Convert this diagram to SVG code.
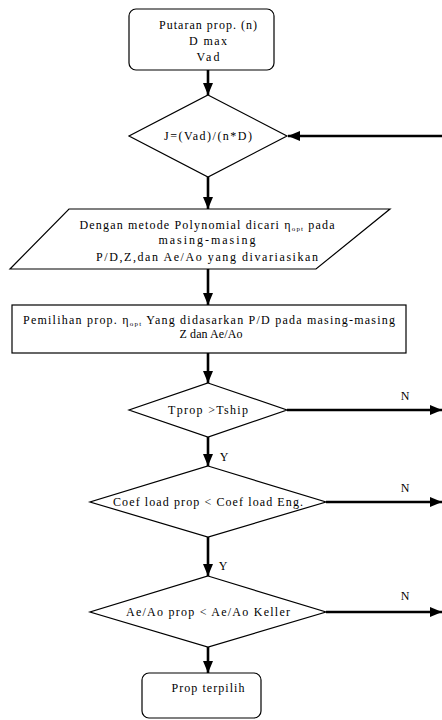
<svg xmlns="http://www.w3.org/2000/svg" width="442" height="720" viewBox="0 0 442 720">
<style>
.s{fill:#fff;stroke:#000;stroke-width:1.2}
.t{font-family:"Liberation Serif","Times New Roman",serif;font-size:12px;fill:#000;text-anchor:middle}
.sub{font-size:7px}
.c{stroke:#000;stroke-width:2.6;fill:none}
</style>
<defs>
<marker id="ah" markerUnits="userSpaceOnUse" markerWidth="12" markerHeight="12" viewBox="0 0 12 12" refX="12" refY="6" orient="auto">
<path d="M0,1 L12,6 L0,11 Z" fill="#000"/>
</marker>
</defs>
<g id="connectors">
<line class="c" x1="208" y1="70" x2="208" y2="95" marker-end="url(#ah)"/>
<line class="c" x1="442" y1="136" x2="288" y2="136" marker-end="url(#ah)"/>
<line class="c" x1="208" y1="177" x2="208" y2="209" marker-end="url(#ah)"/>
<line class="c" x1="208" y1="269" x2="208" y2="305" marker-end="url(#ah)"/>
<line class="c" x1="208" y1="353" x2="208" y2="383" marker-end="url(#ah)"/>
<line class="c" x1="287" y1="410" x2="442" y2="410" marker-end="url(#ah)"/>
<line class="c" x1="208" y1="437" x2="208" y2="466" marker-end="url(#ah)"/>
<line class="c" x1="326" y1="502" x2="442" y2="502" marker-end="url(#ah)"/>
<line class="c" x1="208" y1="537" x2="208" y2="576" marker-end="url(#ah)"/>
<line class="c" x1="326" y1="612" x2="442" y2="612" marker-end="url(#ah)"/>
<line class="c" x1="208" y1="647" x2="208" y2="673" marker-end="url(#ah)"/>
<text class="t" x="405" y="400">N</text>
<text class="t" x="224" y="461">Y</text>
<text class="t" x="405" y="492">N</text>
<text class="t" x="223" y="570">Y</text>
<text class="t" x="405" y="600">N</text>
</g>
<g id="start">
<rect class="s" x="129" y="9" width="145" height="61" rx="7"/>
<text class="t" x="208" y="29" textLength="98">Putaran prop. (n)</text>
<text class="t" x="208" y="45" textLength="38">D max</text>
<text class="t" x="208" y="61" textLength="23">Vad</text>
</g>
<g id="j">
<polygon class="s" points="208,95 287,136 208,177 129,136"/>
<text class="t" x="208" y="140" textLength="88">J=(Vad)/(n*D)</text>
</g>
<g id="poly">
<polygon class="s" points="69,209 390,209 316,269 10,269"/>
<text class="t" x="207" y="229" textLength="255">Dengan metode Polynomial dicari η<tspan class="sub" dy="2">opt</tspan><tspan dy="-2"> pada</tspan></text>
<text class="t" x="207" y="244" textLength="97">masing-masing</text>
<text class="t" x="207" y="261" textLength="222">P/D,Z,dan Ae/Ao yang divariasikan</text>
</g>
<g id="pilih">
<rect class="s" x="12" y="305" width="394" height="48"/>
<text class="t" x="209" y="324" textLength="372">Pemilihan prop. η<tspan class="sub" dy="2">opt</tspan><tspan dy="-2"> Yang didasarkan P/D pada masing-masing</tspan></text>
<text class="t" x="211" y="338" textLength="63">Z dan Ae/Ao</text>
</g>
<g id="tprop">
<polygon class="s" points="208,383 287,410 208,437 129,410"/>
<text class="t" x="208" y="414" textLength="80">Tprop &gt;Tship</text>
</g>
<g id="coef">
<polygon class="s" points="208,466 326,502 208,537 90,502"/>
<text class="t" x="208" y="506" textLength="190">Coef load prop &lt; Coef load Eng.</text>
</g>
<g id="aeao">
<polygon class="s" points="208,576 326,612 208,647 90,612"/>
<text class="t" x="208" y="616" textLength="164">Ae/Ao prop &lt; Ae/Ao Keller</text>
</g>
<g id="end">
<rect class="s" x="142" y="673" width="119" height="45" rx="7"/>
<text class="t" x="208" y="692" textLength="73">Prop terpilih</text>
</g>
</svg>
